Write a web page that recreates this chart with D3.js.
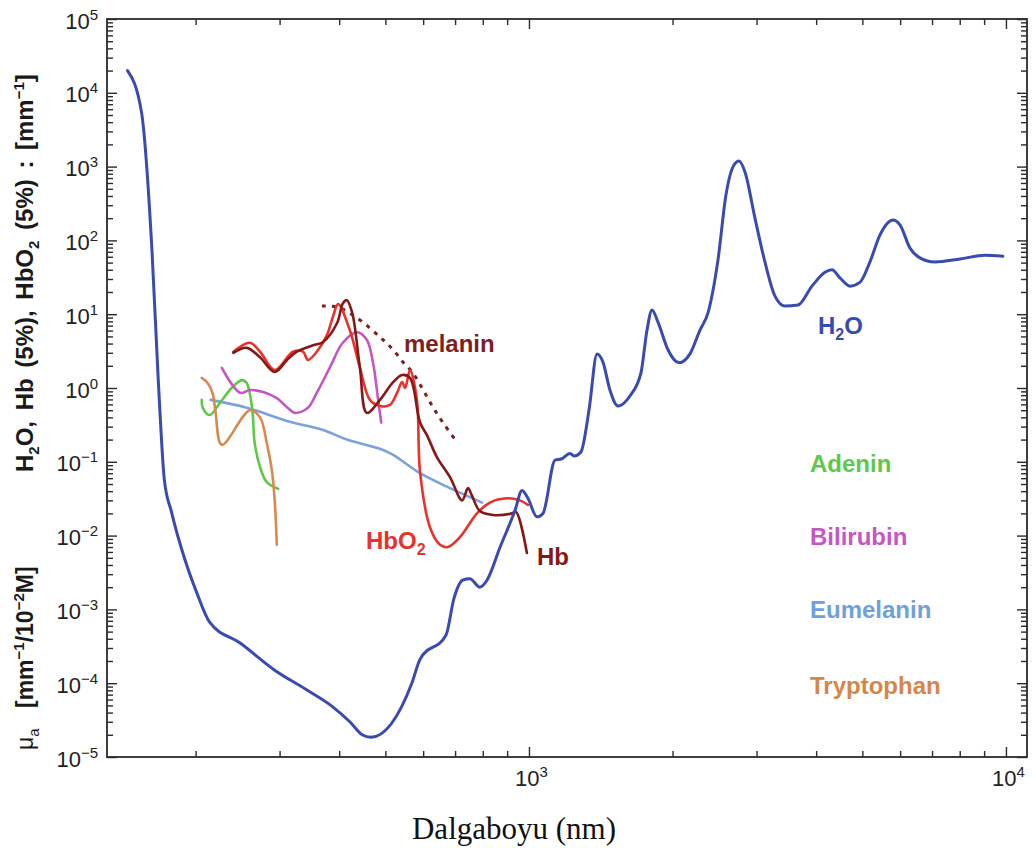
<!DOCTYPE html>
<html>
<head>
<meta charset="utf-8">
<script src="https://cdn.jsdelivr.net/npm/d3@7"></script>
<style>
  html, body { margin: 0; padding: 0; background: #fff; }
  svg { display: block; }
</style>
</head>
<body>
<svg id="chart" width="1034" height="848"></svg>
<script>
// Absorption spectra, each point is [wavelength in nm, absorption coefficient]
const water = [
  [144, 2.0e4], [154, 5500], [162, 74], [167, 1.3], [172, 0.057], [178, 0.021],
  [190, 0.0047], [201, 0.0017], [214, 6.7e-4], [248, 3.5e-4], [293, 1.5e-4],
  [339, 8.4e-5], [386, 4.9e-5], [421, 3.0e-5], [447, 2.0e-5], [466, 1.85e-5],
  [568, 1.0e-4], [591, 2.1e-4], [670, 4.5e-4], [696, 1.4e-3], [727, 2.5e-3],
  [752, 2.6e-3], [789, 2.0e-3], [817, 2.5e-3], [870, 7.0e-3], [935, 0.022],
  [967, 0.041], [995, 0.032], [1039, 0.018], [1070, 0.020], [1134, 0.105],
  [1173, 0.11], [1219, 0.13], [1243, 0.12], [1285, 0.136], [1336, 0.5],
  [1389, 2.9], [1429, 2.25], [1478, 0.94], [1537, 0.57], [1628, 0.78],
  [1717, 1.6], [1768, 6.1], [1811, 11.4], [1864, 7.8], [1956, 3.3],
  [2063, 2.2], [2175, 2.9], [2283, 6.1], [2373, 10.4], [2490, 54],
  [2588, 412], [2690, 1050], [2756, 1190], [2837, 845], [2977, 200],
  [3124, 51], [3279, 17.6], [3441, 12.9], [3664, 13.3], [3920, 24],
  [4174, 37], [4317, 40], [4487, 31], [4710, 24], [4941, 27], [5186, 51],
  [5442, 118], [5797, 189], [5995, 162], [6291, 79], [6602, 58],
  [7098, 51], [8008, 56], [9036, 63], [9856, 61]
];

const oxyHemoglobin = [
  [240, 3.1], [260, 4.1], [273, 3.1], [293, 1.75], [320, 3.1], [336, 3.1],
  [344, 2.4], [359, 3.1], [377, 5.2], [388, 9.2], [398, 13.7], [421, 6.1],
  [442, 1.9], [464, 0.69], [487, 0.57], [511, 0.59], [529, 0.86], [542, 1.2],
  [550, 1.0], [563, 1.75], [582, 0.69], [591, 0.073], [620, 0.013],
  [651, 0.0075], [676, 0.0070], [717, 0.0096], [778, 0.020], [828, 0.028],
  [899, 0.032], [957, 0.030], [995, 0.026]
];

const hemoglobin = [
  [240, 3.0], [256, 3.5], [273, 2.6], [293, 1.65], [311, 2.4], [326, 3.1],
  [353, 3.8], [370, 4.2], [396, 7.6], [407, 14], [415, 15.5], [426, 10.4],
  [442, 1.9], [457, 0.46], [487, 0.69], [519, 1.2], [542, 1.5], [563, 1.37],
  [591, 0.34], [611, 0.23], [641, 0.116], [683, 0.062], [724, 0.030],
  [745, 0.044], [759, 0.035], [789, 0.0215], [841, 0.019], [921, 0.020],
  [939, 0.021], [990, 0.0058]
];

const melanin = [
  [368, 12.9], [396, 12.5], [436, 8.9], [487, 4.9], [519, 3.3], [544, 2.25],
  [571, 1.6], [600, 0.94], [629, 0.55], [660, 0.34], [706, 0.185]
];

const bilirubin = [
  [227, 1.87], [248, 0.86], [260, 0.94], [277, 0.88], [296, 0.73], [311, 0.55],
  [323, 0.46], [344, 0.54], [359, 0.86], [383, 1.93], [407, 4.1], [436, 5.7],
  [457, 4.5], [471, 2.2], [482, 0.75], [490, 0.34]
];

const eumelanin = [
  [215, 0.69], [256, 0.54], [315, 0.35], [370, 0.27], [415, 0.20], [487, 0.15],
  [519, 0.124], [591, 0.070], [673, 0.046], [797, 0.028]
];

const adenine = [
  [206, 0.69], [207, 0.54], [214, 0.43], [225, 0.63], [238, 1.0], [250, 1.28],
  [256, 1.17], [263, 0.50], [266, 0.18], [273, 0.085], [282, 0.053], [298, 0.043]
];

const tryptophan = [
  [206, 1.37], [212, 1.17], [217, 0.86], [220, 0.50], [227, 0.17], [260, 0.50],
  [273, 0.40], [282, 0.18], [289, 0.077], [293, 0.030], [296, 0.0075]
];

// Axis ticks
const xMajorTicks = [1e3, 1e4];
const yMajorTicks = [1e-5, 1e-4, 1e-3, 1e-2, 1e-1, 1e0, 1e1, 1e2, 1e3, 1e4, 1e5];

const svg = d3.select("#chart");
const margin = { left: 107, top: 19 };
const width = 920, height = 738;

const x = d3.scaleLog().domain([130.4, 11070]).range([0, width]);
const y = d3.scaleLog().domain([1e-5, 1e5]).range([height, 0]);

const g = svg.append("g").attr("transform", `translate(${margin.left},${margin.top})`);

// minor ticks: 2..9 within each decade
function minorTicks(lo, hi, domain) {
  const out = [];
  for (let k = lo; k <= hi; k++) {
    for (let d = 2; d <= 9; d++) {
      const v = d * Math.pow(10, k);
      if (v >= domain[0] && v <= domain[1]) out.push(v);
    }
  }
  return out;
}
const xMinor = minorTicks(2, 4, x.domain());
const yMinor = minorTicks(-5, 4, y.domain());

const axisColor = "#2b2b2b";
function styleAxis(sel) {
  sel.select(".domain").remove();
  sel.selectAll(".tick line").attr("stroke", axisColor).attr("stroke-width", 1.4);
}
const noLabel = () => "";

// bottom / top
g.append("g").attr("transform", `translate(0,${height})`)
  .call(d3.axisBottom(x).tickValues(xMinor).tickSize(-6).tickFormat(noLabel)).call(styleAxis);
const xMaj = g.append("g").attr("transform", `translate(0,${height})`)
  .call(d3.axisBottom(x).tickValues(xMajorTicks).tickSize(-10).tickFormat(noLabel)).call(styleAxis);
g.append("g")
  .call(d3.axisTop(x).tickValues(xMinor).tickSize(-6).tickFormat(noLabel)).call(styleAxis);
g.append("g")
  .call(d3.axisTop(x).tickValues(xMajorTicks).tickSize(-10).tickFormat(noLabel)).call(styleAxis);

// left / right
g.append("g")
  .call(d3.axisLeft(y).tickValues(yMinor).tickSize(-6).tickFormat(noLabel)).call(styleAxis);
const yMaj = g.append("g")
  .call(d3.axisLeft(y).tickValues(yMajorTicks).tickSize(-10).tickFormat(noLabel)).call(styleAxis);
g.append("g").attr("transform", `translate(${width},0)`)
  .call(d3.axisRight(y).tickValues(yMinor).tickSize(-6).tickFormat(noLabel)).call(styleAxis);
g.append("g").attr("transform", `translate(${width},0)`)
  .call(d3.axisRight(y).tickValues(yMajorTicks).tickSize(-10).tickFormat(noLabel)).call(styleAxis);

// power-of-ten tick labels
function powerLabel(text, v) {
  const e = Math.round(Math.log10(v));
  text.text("10");
  text.append("tspan").attr("dy", -9).attr("font-size", 15)
    .text(e < 0 ? "\u2212" + Math.abs(e) : String(e));
}
const tickFont = "'Liberation Sans', Arial, Helvetica, sans-serif";
yMaj.selectAll(".tick").each(function (v) {
  const t = d3.select(this).select("text");
  t.attr("x", -9).attr("y", 9).attr("dy", null)
    .attr("text-anchor", "end").attr("fill", "#222")
    .attr("font-size", 22).attr("font-family", tickFont);
  powerLabel(t, v);
});
xMaj.selectAll(".tick").each(function (v) {
  const t = d3.select(this).select("text");
  t.attr("x", 2).attr("y", 29).attr("dy", null)
    .attr("text-anchor", "middle").attr("fill", "#222")
    .attr("font-size", 22).attr("font-family", tickFont);
  powerLabel(t, v);
});

// frame
g.append("rect").attr("width", width).attr("height", height)
  .attr("fill", "none").attr("stroke", axisColor).attr("stroke-width", 1.8);

// curves
const smoothLine = d3.line()
  .x(d => x(d[0]))
  .y(d => y(d[1]))
  .curve(d3.curveCatmullRom.alpha(0.5));
const monoLine = d3.line()
  .x(d => x(d[0]))
  .y(d => y(d[1]))
  .curve(d3.curveMonotoneX);

const curves = [
  { data: eumelanin, color: "#7aa3dc", w: 2.6, gen: smoothLine },
  { data: adenine, color: "#5cc94a", w: 2.6, gen: smoothLine },
  { data: tryptophan, color: "#d88a4e", w: 2.6, gen: smoothLine },
  { data: bilirubin, color: "#c457c4", w: 2.6, gen: smoothLine },
  { data: melanin, color: "#7d1f22", w: 3, dash: "4,6", gen: smoothLine },
  { data: oxyHemoglobin, color: "#e8322a", w: 2.6, gen: smoothLine },
  { data: hemoglobin, color: "#871818", w: 2.6, gen: smoothLine },
  { data: water, color: "#3a4bb0", w: 3, gen: monoLine }
];

const plot = g.append("g");
curves.forEach(c => {
  plot.append("path")
    .datum(c.data)
    .attr("d", c.gen)
    .attr("fill", "none")
    .attr("stroke", c.color)
    .attr("stroke-width", c.w)
    .attr("stroke-linejoin", "round")
    .attr("stroke-linecap", c.dash ? "butt" : "round")
    .attr("stroke-dasharray", c.dash || null);
});

// curve labels
const labelFont = "'Liberation Sans', Arial, Helvetica, sans-serif";
function label(px, py, color, parts) {
  const t = svg.append("text")
    .attr("x", px).attr("y", py)
    .attr("fill", color)
    .attr("font-family", labelFont)
    .attr("font-weight", "bold")
    .attr("font-size", 24);
  let shift = 0;
  parts.forEach(p => {
    const sub = typeof p === "object";
    const dy = (sub ? 6 : 0) - shift;
    shift = sub ? 6 : 0;
    t.append("tspan")
      .attr("dy", dy)
      .attr("font-size", sub ? 16 : null)
      .text(sub ? p.sub : p);
  });
}
label(818, 334, "#3a4bb0", ["H", { sub: "2" }, "O"]);
label(404, 352, "#7d1f22", ["melanin"]);
label(366, 549, "#e8322a", ["HbO", { sub: "2" }]);
label(537, 565, "#871818", ["Hb"]);
label(810, 472, "#5cc94a", ["Adenin"]);
label(810, 545, "#c457c4", ["Bilirubin"]);
label(810, 618, "#6f9fdc", ["Eumelanin"]);
label(810, 694, "#d88548", ["Tryptophan"]);

// y-axis title (three parts, bottom to top)
function vtext(py, parts, opts = {}) {
  const t = svg.append("text")
    .attr("transform", `translate(33,${py}) rotate(-90)`)
    .attr("fill", "#1a1a1a")
    .attr("font-family", labelFont)
    .attr("font-weight", opts.weight || "bold")
    .attr("font-size", opts.size || 23)
    .attr("word-spacing", opts.spacing || 0);
  let shift = 0;
  parts.forEach(p => {
    let dy = -shift, size = null, str = p;
    if (typeof p === "object") {
      const off = p.sub !== undefined ? 6 : -9;
      dy += off; shift = off; size = 15; str = p.sub !== undefined ? p.sub : p.sup;
    } else {
      shift = 0;
    }
    t.append("tspan").attr("dy", dy).attr("font-size", size).text(str);
  });
}
vtext(750, ["\u03bc", { sub: "a" }], { weight: "normal" });
vtext(708, ["[mm", { sup: "\u22121" }, "/10", { sup: "\u22122" }, "M]"]);
vtext(472, ["H", { sub: "2" }, "O, Hb (5%),  HbO", { sub: "2" }, " (5%) : [mm", { sup: "\u22121" }, "]"],
  { size: 24, spacing: 4 });

// x-axis title
svg.append("text")
  .attr("x", 514).attr("y", 839)
  .attr("text-anchor", "middle")
  .attr("font-family", "'Liberation Serif', 'Times New Roman', serif")
  .attr("font-size", 31)
  .attr("fill", "#111")
  .text("Dalgaboyu (nm)");
</script>
</body>
</html>
